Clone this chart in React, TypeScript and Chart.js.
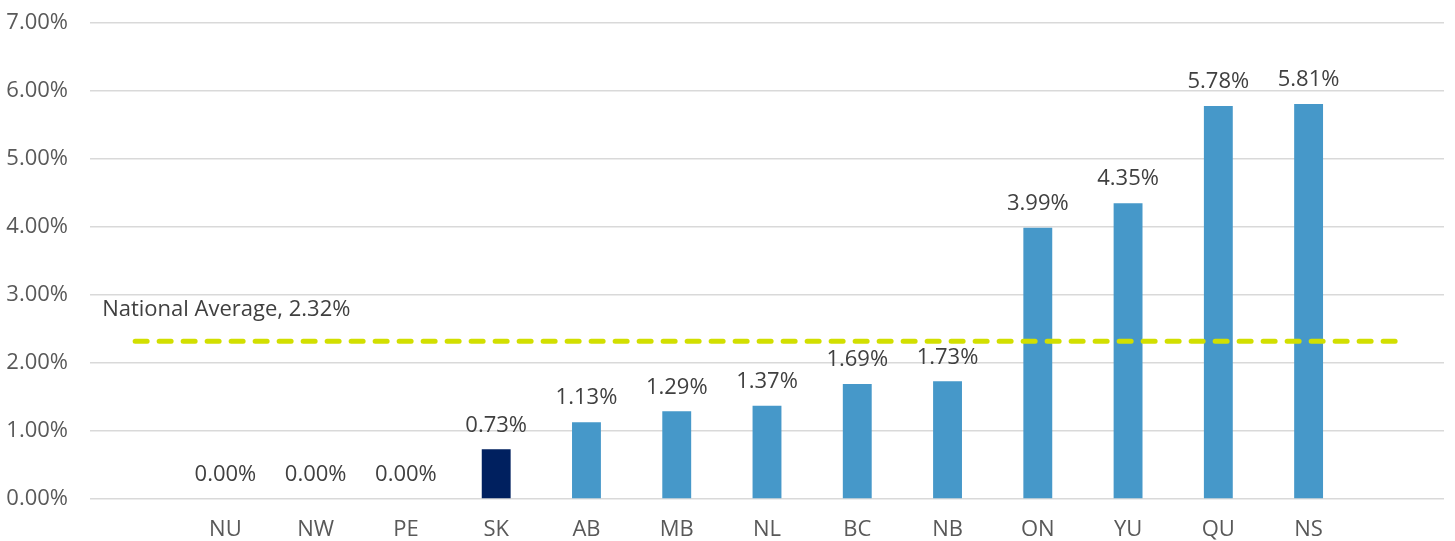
import React, { useEffect, useRef } from "react";
import { Chart, registerables } from "chart.js";

Chart.register(...registerables);

const categories: string[] = ["", "NU", "NW", "PE", "SK", "AB", "MB", "NL", "BC", "NB", "ON", "YU", "QU", "NS", ""];
const values: (number | null)[] = [null, 0.0, 0.0, 0.0, 0.73, 1.13, 1.29, 1.37, 1.69, 1.73, 3.99, 4.35, 5.78, 5.81, null];
const highlightIndex = 4;
const nationalAverage = 2.32;
const nationalLine: (number | null)[] = [nationalAverage, null, null, null, null, null, null, null, null, null, null, null, null, null, nationalAverage];
const yTicks: number[] = [0, 1, 2, 3, 4, 5, 6, 7];

const BAR_COLOR = "#4698c9";
const HIGHLIGHT_COLOR = "#00205f";
const LINE_COLOR = "#d2df00";
const TEXT_COLOR = "#595959";
const LABEL_COLOR = "#404040";
const FONT = "'Open Sans', sans-serif";
const FONT_SIZE = 22;

const labelsPlugin = {
  id: "customLabels",
  afterDatasetsDraw(chart: any) {
    const ctx = chart.ctx;
    const meta = chart.getDatasetMeta(0);
    ctx.save();
    ctx.font = `${FONT_SIZE}px ${FONT}`;
    ctx.fillStyle = LABEL_COLOR;
    ctx.textAlign = "center";
    ctx.textBaseline = "middle";
    meta.data.forEach((bar: any, i: number) => {
      const v = values[i];
      if (v === null || v === undefined) return;
      ctx.fillText(v.toFixed(2) + "%", bar.x, bar.y - 24);
    });
    const xs = chart.scales.x;
    const ys = chart.scales.y;
    ctx.textAlign = "left";
    ctx.fillText(
      "National Average, " + nationalAverage.toFixed(2) + "%",
      xs.getPixelForValue(0) - 33,
      ys.getPixelForValue(nationalAverage) - 32
    );
    ctx.restore();
  },
};

export default function App() {
  const ref = useRef<HTMLCanvasElement | null>(null);
  useEffect(() => {
    if (!ref.current) return;
    const chart = new Chart(ref.current, {
      type: "bar",
      data: {
        labels: categories,
        datasets: [
          {
            type: "bar",
            data: values,
            backgroundColor: values.map((_, i) => (i === highlightIndex ? HIGHLIGHT_COLOR : BAR_COLOR)),
            barPercentage: 0.32,
            categoryPercentage: 1,
            order: 2,
          } as any,
          {
            type: "line",
            data: nationalLine,
            borderColor: LINE_COLOR,
            borderWidth: 5,
            borderDash: [12, 12],
            borderCapStyle: "round",
            pointRadius: 0,
            spanGaps: true,
            fill: false,
            order: 1,
          } as any,
        ],
      },
      options: {
        animation: false,
        responsive: true,
        maintainAspectRatio: false,
        layout: { padding: { top: 23, right: 11, left: 0, bottom: 0 } },
        plugins: { legend: { display: false }, tooltip: { enabled: false } },
        scales: {
          x: {
            grid: { display: false },
            border: { display: false },
            ticks: { color: TEXT_COLOR, font: { family: FONT, size: FONT_SIZE }, padding: 10, maxRotation: 0, autoSkip: false },
            afterFit: (s: any) => {
              s.height = 42;
              s.paddingLeft = 0;
              s.paddingRight = 0;
            },
          },
          y: {
            min: 0,
            max: 7,
            afterBuildTicks: (s: any) => {
              s.ticks = yTicks.map((v) => ({ value: v }));
            },
            grid: { color: "#d9d9d9", lineWidth: 1.5, drawTicks: false },
            border: { display: false },
            ticks: {
              color: TEXT_COLOR,
              font: { family: FONT, size: FONT_SIZE },
              padding: 22,
              callback: (v: any) => Number(v).toFixed(2) + "%",
            },
            afterFit: (s: any) => {
              s.width = 90;
              s.paddingTop = 0;
              s.paddingBottom = 0;
            },
          },
        },
      },
      plugins: [labelsPlugin],
    });
    return () => chart.destroy();
  }, []);
  return (
    <div style={{ position: "fixed", left: 0, top: 0, width: 1455, height: 541, background: "#fff" }}>
      <canvas ref={ref} />
    </div>
  );
}
